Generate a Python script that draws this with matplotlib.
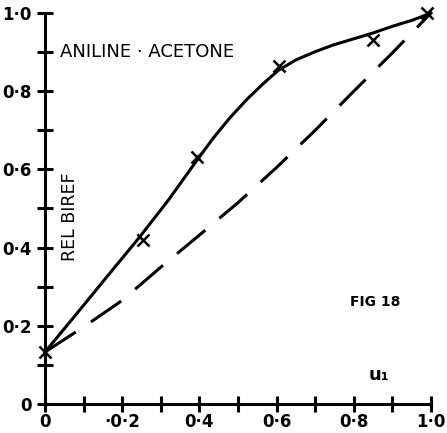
import matplotlib.pyplot as plt
import numpy as np

# solid curve
curve_x = [0.0, 0.073, 0.16, 0.246, 0.32, 0.389, 0.435, 0.479, 0.523, 0.565, 0.604,
           0.65, 0.7, 0.746, 0.8, 0.85, 0.9, 0.953, 1.0]
curve_y = [0.133, 0.22, 0.325, 0.428, 0.522, 0.617, 0.679, 0.732, 0.779, 0.819, 0.853,
           0.88, 0.901, 0.918, 0.934, 0.949, 0.966, 0.982, 1.0]

# measured points (crosses)
pts_x = [0.0, 0.254, 0.393, 0.607, 0.85, 0.99]
pts_y = [0.133, 0.42, 0.632, 0.865, 0.93, 1.0]

# dashed line
dash_x = [0.0, 0.1, 0.2, 0.3, 0.4, 0.5, 0.6, 0.7, 0.8, 0.9, 1.0]
dash_y = [0.133, 0.197, 0.265, 0.35, 0.432, 0.515, 0.605, 0.70, 0.80, 0.898, 1.0]

ticks = [0.0, 0.2, 0.4, 0.6, 0.8, 1.0]
x_ticklabels = ['0', '\u00b70\u00b72', '0\u00b74', '0\u00b76', '0\u00b78', '1\u00b70']
y_ticklabels = ['0', '0\u00b72', '0\u00b74', '0\u00b76', '0\u00b78', '1\u00b70']

fig = plt.figure(figsize=(4.47, 4.33), dpi=100)
ax = fig.add_axes([45 / 447, 29 / 433, 386 / 447, 391 / 433])

ax.plot(curve_x, curve_y, color='black', linewidth=2.2, clip_on=False,
        solid_joinstyle='round')
ax.plot(dash_x, dash_y, color='black', linewidth=2.2, dashes=(12, 6), clip_on=False)
ax.plot(pts_x, pts_y, linestyle='none', marker='x', markersize=8,
        markeredgewidth=1.8, color='black', clip_on=False)

ax.set_xlim(0, 1.0)
ax.set_ylim(0, 1.0)

for s in ['top', 'right']:
    ax.spines[s].set_visible(False)
for s in ['left', 'bottom']:
    ax.spines[s].set_linewidth(2.2)

minor = np.arange(0.1, 1.0, 0.2)
ax.set_xticks(ticks)
ax.set_xticks(minor, minor=True)
ax.set_yticks(ticks)
ax.set_yticks(minor, minor=True)
ax.set_xticklabels(x_ticklabels, fontsize=12, fontweight='bold')
ax.set_yticklabels(y_ticklabels, fontsize=12, fontweight='bold')
ax.tick_params(which='both', direction='inout', length=11, width=2.2, pad=1)
ax.tick_params(axis='y', pad=4)

ax.text(0.04, 0.9, 'ANILINE \u00b7 ACETONE', fontsize=13, va='center', ha='left')
ax.text(0.065, 0.48, 'REL BIREF', fontsize=12.5, rotation=90, va='center', ha='center')
ax.text(0.855, 0.26, 'FIG 18', fontsize=10, va='center', ha='center', fontweight='bold')
ax.text(0.865, 0.075, 'u\u2081', fontsize=13, va='center', ha='center', fontweight='bold')

fig.savefig('out.png', dpi=100, facecolor='white')
